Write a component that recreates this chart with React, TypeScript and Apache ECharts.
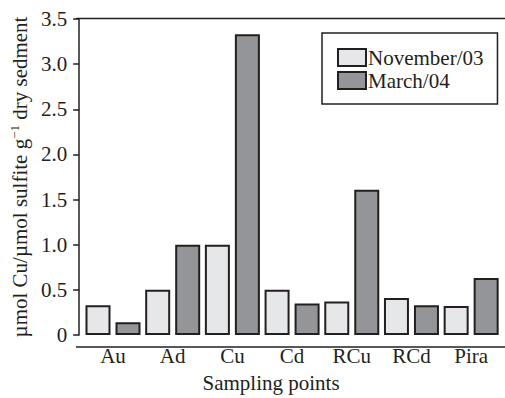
import React, { useEffect, useRef } from "react";
import * as echarts from "echarts";

const categories = ["Au", "Ad", "Cu", "Cd", "RCu", "RCd", "Pira"];
const november03 = [0.33, 0.5, 1.0, 0.5, 0.37, 0.41, 0.32];
const march04 = [0.14, 1.0, 3.33, 0.35, 1.61, 0.33, 0.63];
const seriesNames = ["November/03", "March/04"];

const FONT = "'Liberation Serif', 'Times New Roman', serif";
const INK = "#231f20";

export default function App() {
  const ref = useRef<HTMLDivElement>(null);
  useEffect(() => {
    document.body.style.margin = "0";
    const chart = echarts.init(ref.current!, null, { renderer: "svg" });
    chart.setOption({
      animation: false,
      backgroundColor: "#ffffff",
      textStyle: { fontFamily: FONT, color: INK, fontWeight: "normal" },
      grid: { left: 81, right: 4, top: 19, bottom: 51, containLabel: false },
      legend: {
        orient: "vertical",
        left: 322,
        top: 33,
        width: 178,
        padding: [14, 14, 13, 15],
        borderColor: INK,
        borderWidth: 1.5,
        itemWidth: 28,
        itemHeight: 17,
        itemGap: 2,
        icon: "rect",
        textStyle: { fontFamily: FONT, fontSize: 21, color: INK, padding: [0, 0, 0, -3] },
        data: seriesNames,
      },
      xAxis: {
        type: "category",
        data: categories,
        axisLine: { show: false },
        axisTick: { show: false },
        axisLabel: { fontFamily: FONT, fontSize: 21, color: INK, margin: 10 },
        name: "Sampling points",
        nameLocation: "middle",
        nameGap: 37,
        nameTextStyle: { fontFamily: FONT, fontSize: 21, color: INK, fontWeight: "normal", padding: [0, 42, 0, 0] },
      },
      yAxis: {
        type: "value",
        min: 0,
        max: 3.5,
        interval: 0.5,
        offset: 4,
        splitLine: { show: false },
        axisLine: { show: true, lineStyle: { color: INK, width: 1.5 } },
        axisTick: { show: true, inside: false, length: 6, lineStyle: { color: INK, width: 1.5 } },
        axisLabel: {
          fontFamily: FONT,
          fontSize: 21,
          color: INK,
          margin: 12,
          formatter: (v: number) => (v === 0 ? "0" : v.toFixed(1)),
        },
        name: "{n|µmol Cu/µmol sulfite g}{sup|−1}{n| dry sedment}",
        nameLocation: "middle",
        nameGap: 42,
        nameTextStyle: {
          fontFamily: FONT,
          fontSize: 21,
          fontWeight: "normal",
          color: INK,
          rich: {
            n: { fontFamily: FONT, fontSize: 21, fontWeight: "normal", color: INK },
            sup: { fontFamily: FONT, fontSize: 13, fontWeight: "normal", color: INK, verticalAlign: "top", padding: [0, 0, 10, 0] },
          },
        },
      },
      graphic: [
        { type: "line", shape: { x1: 76, y1: 18.5, x2: 505, y2: 18.5 }, style: { stroke: INK, lineWidth: 1.5 }, silent: true },
        { type: "line", shape: { x1: 76, y1: 347, x2: 505, y2: 347 }, style: { stroke: INK, lineWidth: 1.5 }, silent: true, z: 10 },
      ],
      series: [
        {
          name: seriesNames[0],
          type: "bar",
          data: november03,
          barWidth: 25,
          barGap: "20%",
          itemStyle: { color: "#e6e7e8", borderColor: INK, borderWidth: 2 },
        },
        {
          name: seriesNames[1],
          type: "bar",
          data: march04,
          barWidth: 25,
          barGap: "20%",
          itemStyle: { color: "#939598", borderColor: INK, borderWidth: 2 },
        },
      ],
    });
    return () => chart.dispose();
  }, []);
  return <div ref={ref} style={{ width: 505, height: 398 }} />;
}
